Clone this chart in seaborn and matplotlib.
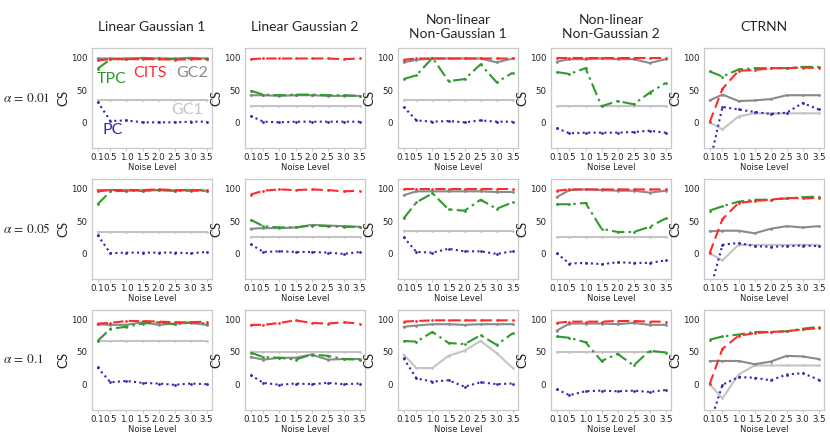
import numpy as np
import pandas as pd
import matplotlib
matplotlib.use("Agg")
import matplotlib.pyplot as plt
import seaborn as sns

# Noise levels shared by every panel
noise = [0.1, 0.5, 1.0, 1.5, 2.0, 2.5, 3.0, 3.5]

datasets = ["Linear Gaussian 1", "Linear Gaussian 2", "Non-linear\nNon-Gaussian 1",
            "Non-linear\nNon-Gaussian 2", "CTRNN"]
alphas = ["0.01", "0.05", "0.1"]

# Each method: rows = alpha, columns = dataset
cits = [
    [[96, 98, 98, 98, 98, 97, 98, 98], [98, 99, 99, 99, 99, 99, 98, 99],
     [97, 99, 99, 99, 99, 99, 99, 99], [99, 99, 99, 99, 99, 99, 99, 99],
     [0, 52, 80, 81, 84, 84, 85, 84]],
    [[96, 98, 98, 98, 99, 98, 98, 98], [91, 97, 99, 98, 99, 98, 96, 97],
     [99, 99, 99, 99, 99, 99, 99, 99], [97, 99, 99, 99, 99, 99, 99, 99],
     [0, 53, 78, 81, 83, 86, 85, 86]],
    [[94, 95, 98, 98, 97, 96, 96, 97], [92, 92, 95, 99, 95, 94, 96, 94],
     [97, 98, 99, 99, 99, 99, 99, 99], [95, 97, 97, 97, 98, 98, 97, 97],
     [0, 55, 75, 79, 81, 82, 85, 87]],
]
tpc = [
    [[83, 98, 98, 99, 99, 98, 99, 98], [49, 43, 42, 43, 43, 42, 42, 41],
     [67, 73, 100, 64, 67, 90, 62, 77], [78, 75, 84, 25, 33, 28, 46, 61],
     [79, 71, 82, 84, 84, 84, 86, 86]],
    [[76, 96, 97, 97, 98, 97, 97, 97], [52, 42, 40, 40, 43, 42, 41, 41],
     [54, 79, 93, 68, 66, 83, 69, 79], [76, 76, 78, 38, 33, 33, 41, 54],
     [66, 73, 80, 83, 83, 85, 87, 88]],
    [[67, 86, 89, 94, 96, 93, 96, 94], [49, 42, 41, 38, 46, 44, 39, 38],
     [67, 66, 81, 64, 62, 76, 61, 79], [74, 72, 65, 36, 47, 29, 52, 49],
     [69, 74, 77, 81, 81, 82, 86, 89]],
]
gc2 = [
    [[99, 99, 99, 100, 99, 99, 100, 99], [42, 42, 41, 42, 42, 41, 41, 41],
     [93, 97, 99, 99, 99, 99, 93, 99], [94, 98, 98, 99, 98, 98, 92, 98],
     [34, 43, 33, 34, 36, 42, 42, 42]],
    [[98, 98, 97, 97, 98, 97, 98, 97], [38, 39, 39, 40, 44, 43, 42, 41],
     [90, 96, 96, 96, 96, 96, 95, 95], [87, 98, 99, 98, 97, 97, 94, 97],
     [34, 35, 35, 31, 38, 42, 40, 42]],
    [[93, 92, 92, 96, 92, 94, 95, 92], [42, 38, 41, 41, 46, 38, 39, 39],
     [89, 91, 93, 93, 92, 93, 93, 93], [83, 94, 94, 94, 93, 95, 92, 92],
     [36, 36, 36, 31, 35, 44, 43, 39]],
]
gc1 = [
    [[34, 34, 34, 34, 34, 34, 34, 34], [25, 25, 25, 25, 25, 25, 25, 25],
     [34, 34, 34, 34, 34, 34, 34, 34], [25, 25, 25, 25, 25, 25, 25, 25],
     [0, -11, 9, 14, 14, 14, 14, 14]],
    [[33, 33, 33, 33, 33, 33, 33, 33], [25, 25, 25, 25, 25, 25, 25, 25],
     [34, 34, 34, 34, 34, 34, 34, 34], [25, 25, 25, 25, 25, 25, 25, 25],
     [0, -11, 13, 13, 13, 13, 13, 13]],
    [[67, 67, 67, 67, 67, 67, 67, 67], [50, 50, 50, 50, 50, 50, 50, 50],
     [46, 25, 25, 44, 52, 67, 48, 25], [50, 50, 50, 50, 50, 50, 50, 50],
     [0, -22, 15, 29, 29, 29, 29, 29]],
]
pc = [
    [[32, 2, 3, 0, 0, 0, 1, 1], [10, 1, 0, 1, 1, 1, 1, 1],
     [24, 3, 1, 2, 0, 3, 1, 1], [-9, -17, -16, -16, -16, -15, -13, -16],
     [-64, 24, 20, 16, 13, 15, 30, 20]],
    [[28, 0, 1, 1, 1, 1, 0, 2], [14, 2, 3, 2, 2, 1, -1, 2],
     [25, 2, 1, 7, 3, 3, -1, 3], [0, -16, -15, -17, -14, -15, -15, -11],
     [-60, 13, 16, 11, 10, 11, 12, 11]],
    [[26, 3, 5, 2, 1, -1, 1, 0], [14, 2, -1, 1, 0, 2, 0, 1],
     [40, 9, 4, 6, -4, 3, 0, 1], [-8, -17, -11, -10, -11, -10, -12, -9],
     [-62, -1, 11, 10, 6, 15, 17, 7]],
]

methods = ["GC1", "GC2", "TPC", "CITS", "PC"]
method_data = {"GC1": gc1, "GC2": gc2, "TPC": tpc, "CITS": cits, "PC": pc}
colors = {"GC1": "#c4c4c4", "GC2": "#8a8a8a", "TPC": "#2f9a2f",
          "CITS": "#ff2a2a", "PC": "#2b2bb0"}
styles = {"GC1": "-", "GC2": "-", "TPC": (0, (6, 2, 1.2, 2)),
          "CITS": (0, (5, 2.5)), "PC": (0, (1, 1.6))}

sns.set_theme(style="white")
plt.rcParams.update({
    "font.family": ["DejaVu Sans"],
    "mathtext.fontset": "stix",
})

fig, axes = plt.subplots(3, 5, figsize=(8.3, 4.38), dpi=100)
plt.subplots_adjust(left=0.111, right=0.993, top=0.890, bottom=0.064,
                    wspace=0.275, hspace=0.31)

for r in range(3):
    for c in range(5):
        ax = axes[r, c]
        for m in methods:
            df = pd.DataFrame({"noise": noise, "cs": method_data[m][r][c]})
            sns.lineplot(data=df, x="noise", y="cs", ax=ax, color=colors[m],
                         linestyle=styles[m], linewidth=1.5, marker="o",
                         markersize=2, markeredgewidth=0)
        ax.set_ylim(-40, 115)
        ax.set_xticks(noise)
        ax.set_xticklabels([f"{v:.1f}" for v in noise])
        ax.set_yticks([0, 50, 100])
        ax.tick_params(axis="both", labelsize=6.2, length=2, width=0.6,
                       colors="#444444", pad=1.5, bottom=True, left=False)
        ax.tick_params(axis="x", colors="#bbbbbb", labelcolor="#222222")
        ax.tick_params(axis="y", labelcolor="#222222")
        for s in ax.spines.values():
            s.set_color("#c8c8c8")
            s.set_linewidth(0.9)
        ax.set_xlabel("Noise Level", fontsize=6, labelpad=0.5, color="#222222")
        ax.set_ylabel("CS", fontsize=9.5, family=["Lato", "DejaVu Sans"],
                      labelpad=1, color="#222222")
        if r == 0:
            ax.text(0.5, 1.21, datasets[c], transform=ax.transAxes,
                    ha="center", va="center", fontsize=10,
                    family=["Lato", "DejaVu Sans"], linespacing=1.25)
    pos = axes[r, 0].get_position()
    fig.text(3 / 830, pos.y0 + pos.height / 2,
             rf"$\alpha\,=\,{alphas[r]}$", ha="left", va="center", fontsize=9.5)

# Method labels in the first panel
ax0 = axes[0, 0]
lab_font = ["Lato", "DejaVu Sans"]
ax0.text(0.08, 67, "TPC", color=colors["TPC"], fontsize=11.5, family=lab_font, va="center")
ax0.text(1.2, 77, "CITS", color=colors["CITS"], fontsize=11.5, family=lab_font, va="center")
ax0.text(2.55, 77, "GC2", color=colors["GC2"], fontsize=11.5, family=lab_font, va="center")
ax0.text(2.4, 19, "GC1", color=colors["GC1"], fontsize=11.5, family=lab_font, va="center")
ax0.text(0.25, -12, "PC", color=colors["PC"], fontsize=11.5, family=lab_font, va="center")

fig.savefig("out.png", dpi=100)
